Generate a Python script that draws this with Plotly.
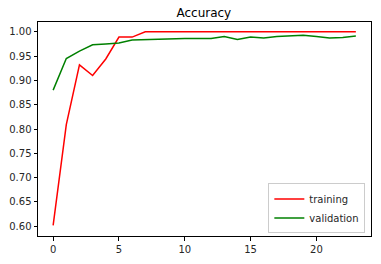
import plotly.graph_objects as go

epochs = list(range(24))
training = [0.602, 0.809, 0.932, 0.910, 0.944, 0.989, 0.989, 1.0, 1.0, 1.0, 1.0, 1.0,
            1.0, 1.0, 1.0, 1.0, 1.0, 1.0, 1.0, 1.0, 1.0, 1.0, 1.0, 1.0]
validation = [0.880, 0.945, 0.960, 0.973, 0.975, 0.977, 0.983, 0.984, 0.984, 0.986, 0.986, 0.986,
              0.986, 0.990, 0.984, 0.989, 0.987, 0.990, 0.991, 0.993, 0.990, 0.987, 0.988, 0.991]
series_names = ["training", "validation"]
title_text = "Accuracy"

fig = go.Figure()
fig.add_trace(go.Scatter(x=epochs, y=training, mode="lines", name=series_names[0],
                         line=dict(color="#ff0000", width=1.5)))
fig.add_trace(go.Scatter(x=epochs, y=validation, mode="lines", name=series_names[1],
                         line=dict(color="#008000", width=1.5)))

axis_common = dict(showgrid=False, zeroline=False, showline=True, linecolor="black",
                   linewidth=1, mirror=True, ticks="outside", ticklen=3.5, tickwidth=1,
                   tickcolor="black", tickfont=dict(family="DejaVu Sans", size=10, color="#262626"))

fig.update_layout(
    width=381, height=264,
    margin=dict(l=36, r=9, t=22, b=24),
    plot_bgcolor="white", paper_bgcolor="white",
    title=dict(text=title_text, x=(36 + 371.7) / 2 / 381, xanchor="center",
               y=1 - 13 / 264, yanchor="middle", yref="container",
               font=dict(family="DejaVu Sans", size=12, color="black")),
    xaxis=dict(range=[-1.15, 24.15], tickmode="linear", tick0=0, dtick=5, **axis_common),
    yaxis=dict(range=[0.58, 1.02], tickmode="linear", tick0=0.6, dtick=0.05, tickformat=".2f",
               **axis_common),
    legend=dict(x=0.983, y=0.012, xanchor="right", yanchor="bottom",
                bgcolor="rgba(255,255,255,0.8)", bordercolor="#cccccc", borderwidth=1,
                font=dict(family="DejaVu Sans", size=10, color="#262626"),
                tracegroupgap=0, itemwidth=30),
    showlegend=True,
)

fig.write_html("out.html")
